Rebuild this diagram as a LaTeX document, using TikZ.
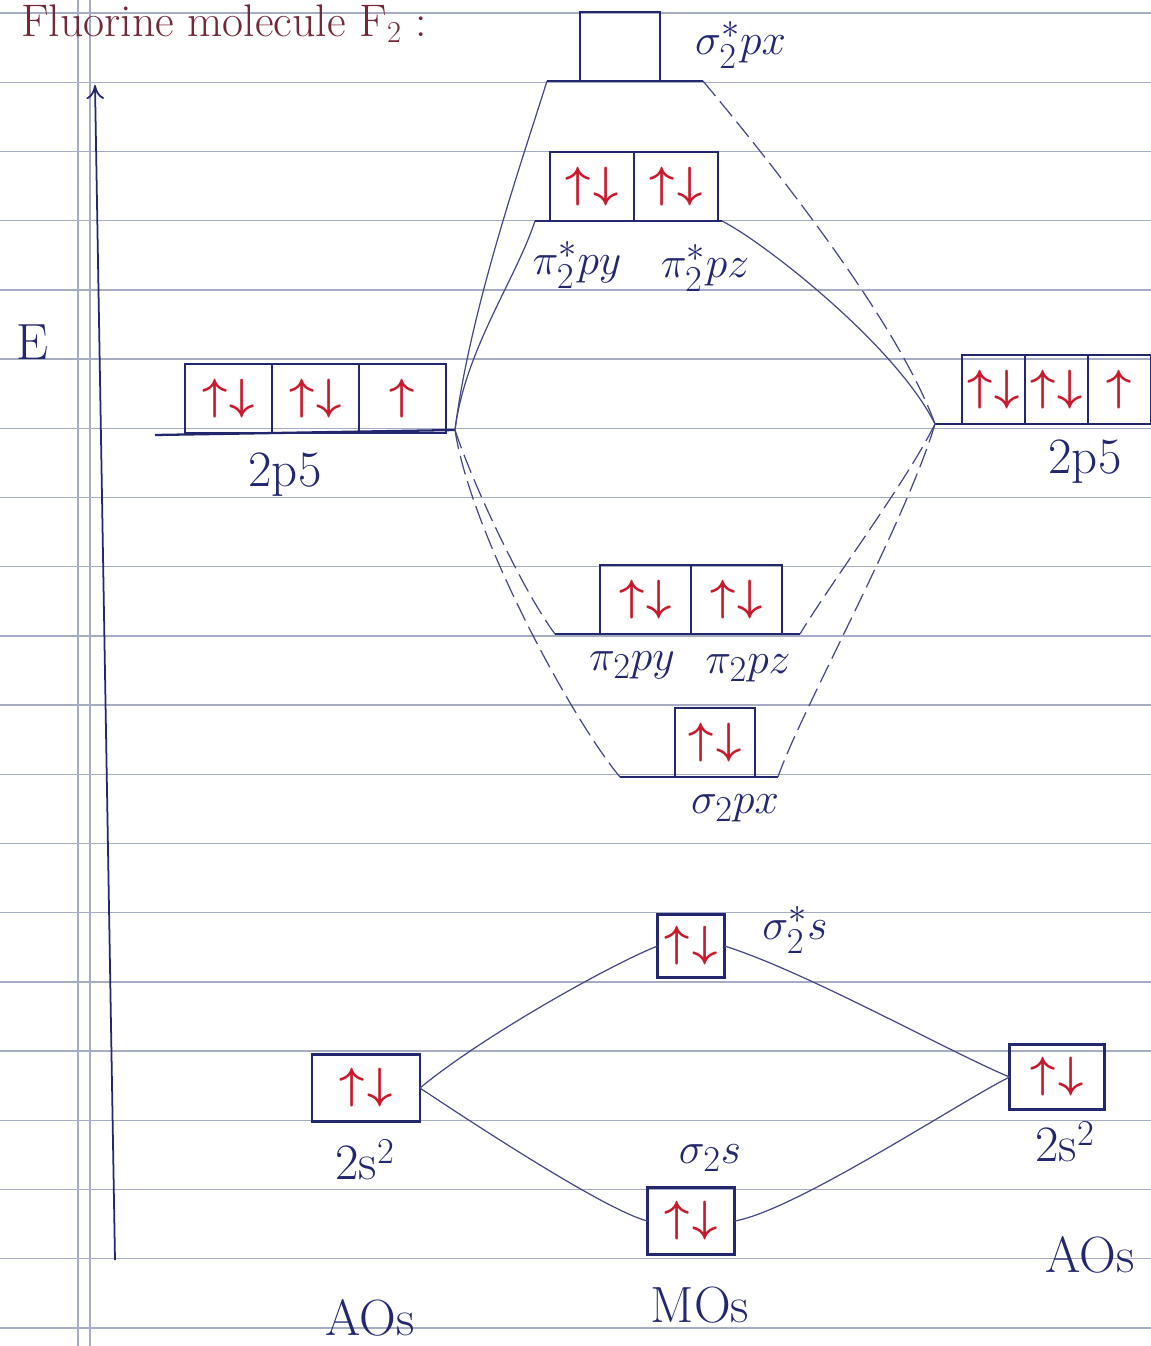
\documentclass[tikz,border=0pt]{standalone}
\usepackage{amsmath}
\usetikzlibrary{positioning,arrows.meta}
\definecolor{ink}{RGB}{35,40,110}
\definecolor{elec}{RGB}{200,25,45}
\definecolor{ruling}{RGB}{165,172,195}
\definecolor{headcol}{RGB}{115,40,55}
\newcommand{\pairud}{$\boldsymbol{\uparrow}\mkern1mu\boldsymbol{\downarrow}$}
\newcommand{\singleu}{$\boldsymbol{\uparrow}$}

\begin{document}
\begin{tikzpicture}[x=0.02cm,y=-0.02cm,
  orb/.style={draw=ink,line width=1.3pt,inner sep=0pt,outer sep=0pt,
    text=elec,font=\fontsize{29}{29}\selectfont,minimum height=1.38cm},
  lab/.style={text=ink,font=\fontsize{29}{31}\selectfont,inner sep=1pt},
  level/.style={draw=ink,line width=1.3pt},
  link/.style={draw=ink!85,line width=0.7pt},
  dlink/.style={link,dash pattern=on 11pt off 4pt},
  paper/.style={draw=ruling,line width=0.8pt}
]
  \useasboundingbox (0,0) rectangle (1151,1346);
  % ruled notebook page
  \foreach \k in {0,...,19}
    \draw[paper] (0,{13+69.2*\k}) -- (1151,{13+69.2*\k});
  \draw[paper] (78,0) -- (78,1346);
  \draw[paper] (90,0) -- (90,1346);

  \node[anchor=base west,text=headcol,font=\fontsize{26}{26}\selectfont] (head) at (15,36) {Fluorine molecule F$_2$ :};

  % energy axis
  \coordinate (axb) at (115,1260);
  \coordinate (axt) at (95,85);
  \draw[ink,line width=1pt,-{To[length=8pt,width=10pt]}] (axb) -- (axt);
  \node[lab] (elab) at (32,342) {E};

  % sigma* 2px
  \node[orb,minimum width=1.6cm,anchor=south west] (sxs) at (580,81) {};
  \coordinate (sxsL) at (547,81);
  \coordinate (sxsR) at (703,81);
  \draw[level] (sxsL) -- (sxsR);
  \node[lab,anchor=west] (sxsT) at (693,45) {$\sigma^{*}_{2}px$};

  % pi* 2py, 2pz
  \node[orb,minimum width=1.68cm,anchor=south west] (pisy) at (550,221) {\pairud};
  \node[orb,minimum width=1.68cm,right=0pt of pisy] (pisz) {\pairud};
  \coordinate (pisL) at (535,221);
  \coordinate (pisR) at (722,221);
  \draw[level] (pisL) -- (pisR);
  \node[lab] (pisyT) at (577,265) {$\pi^{*}_{2}py$};
  \node[lab] (piszT) at (705,268) {$\pi^{*}_{2}pz$};

  % left atom 2p
  \node[orb,minimum width=1.74cm,anchor=south west] (pL1) at (185,433) {\pairud};
  \node[orb,minimum width=1.74cm,right=0pt of pL1] (pL2) {\pairud};
  \node[orb,minimum width=1.74cm,right=0pt of pL2] (pL3) {\singleu};
  \coordinate (pLa) at (155,435);
  \coordinate (pLb) at (455,430);
  \draw[level] (pLa) -- (pLb);
  \node[lab] (pLT) at (285,475) {2p5};

  % right atom 2p
  \node[orb,minimum width=1.26cm,anchor=south west] (pR1) at (962,424) {\pairud};
  \node[orb,minimum width=1.26cm,right=0pt of pR1] (pR2) {\pairud};
  \node[orb,minimum width=1.26cm,right=0pt of pR2] (pR3) {\singleu};
  \coordinate (pRa) at (935,424);
  \coordinate (pRb) at (1151,424);
  \draw[level] (pRa) -- (pRb);
  \node[lab] (pRT) at (1085,462) {2p5};

  % pi 2py, 2pz
  \node[orb,minimum width=1.82cm,anchor=south west] (piy) at (600,634) {\pairud};
  \node[orb,minimum width=1.82cm,right=0pt of piy] (piz) {\pairud};
  \coordinate (piL) at (555,634);
  \coordinate (piR) at (800,634);
  \draw[level] (piL) -- (piR);
  \node[lab] (piyT) at (632,665) {$\pi_{2}py$};
  \node[lab] (pizT) at (748,668) {$\pi_{2}pz$};

  % sigma 2px
  \node[orb,minimum width=1.6cm,anchor=south west] (sx) at (675,777) {\pairud};
  \coordinate (sxL) at (620,777);
  \coordinate (sxR) at (778,777);
  \draw[level] (sxL) -- (sxR);
  \node[lab] (sxT) at (735,808) {$\sigma_{2}px$};

  % 2s level
  \node[orb,minimum width=1.34cm,minimum height=1.26cm] (sss) at (691,946) {\pairud};
  \node[lab] (sssT) at (795,930) {$\sigma^{*}_{2}s$};
  \node[orb,minimum width=2.16cm,minimum height=1.34cm] (s2L) at (366,1088) {\pairud};
  \node[lab] (s2LT) at (365,1160) {2s$^2$};
  \node[orb,minimum width=1.9cm,minimum height=1.3cm] (s2R) at (1057,1077) {\pairud};
  \node[lab] (s2RT) at (1065,1142) {2s$^2$};
  \node[orb,minimum width=1.74cm,minimum height=1.34cm] (ss) at (691,1221) {\pairud};
  \node[lab] (ssT) at (710,1158) {$\sigma_{2}s$};

  \node[lab] (aoL) at (370,1318) {AOs};
  \node[lab] (mo) at (700,1305) {MOs};
  \node[lab] (aoR) at (1090,1255) {AOs};

  % correlation lines 2p
  \draw[link] (pLb) .. controls +(15,-120) and +(-25,80) .. (sxsL);
  \draw[link] (pLb) .. controls +(10,-80) and +(-20,60) .. (pisL);
  \draw[dlink] (sxsR) .. controls +(50,60) and +(-40,-110) .. (pRa);
  \draw[link] (pisR) .. controls +(40,20) and +(-40,-80) .. (pRa);
  \draw[dlink] (pLb) .. controls +(20,60) and +(-30,-40) .. (piL);
  \draw[dlink] (pLb) .. controls +(15,100) and +(-50,-60) .. (sxL);
  \draw[dlink] (pRa) .. controls +(-30,60) and +(30,-50) .. (piR);
  \draw[dlink] (pRa) .. controls +(-30,100) and +(20,-60) .. (sxR);

  % correlation lines 2s
  \draw[link] (s2L.east) .. controls +(60,-50) and +(-50,20) .. (sss.west);
  \draw[link] (s2L.east) .. controls +(60,40) and +(-40,-10) .. (ss.west);
  \draw[link] (sss.east) .. controls +(80,25) and +(-60,-25) .. (s2R.west);
  \draw[link] (ss.east) .. controls +(60,-10) and +(-50,25) .. (s2R.west);
\end{tikzpicture}
\end{document}
